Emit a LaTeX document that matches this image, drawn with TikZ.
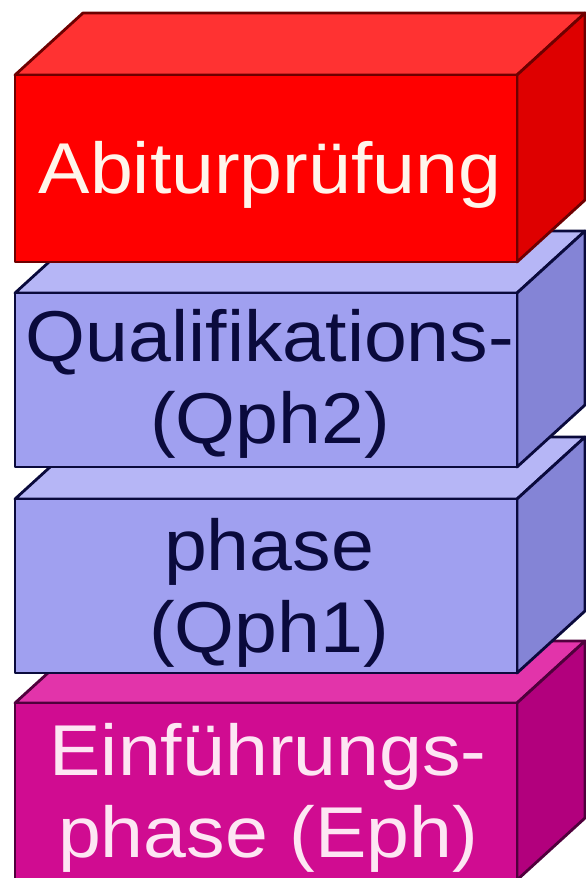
\documentclass[tikz,border=0pt]{standalone}
\usepackage{fontspec}
\setmainfont[FakeStretch=1.07]{Liberation Sans}
\definecolor{abifront}{RGB}{255,0,0}
\definecolor{abitop}{RGB}{255,50,50}
\definecolor{abiside}{RGB}{222,0,0}
\definecolor{abiline}{RGB}{110,0,0}
\definecolor{qphfront}{RGB}{160,160,240}
\definecolor{qphtop}{RGB}{182,182,246}
\definecolor{qphside}{RGB}{132,132,214}
\definecolor{qphline}{RGB}{10,10,60}
\definecolor{ephfront}{RGB}{208,12,145}
\definecolor{ephtop}{RGB}{226,52,170}
\definecolor{ephside}{RGB}{178,0,125}
\definecolor{ephline}{RGB}{80,0,60}
\begin{document}
\begin{tikzpicture}[x=1pt,y=-1pt]
		\tikzset{face/.style = {line width=2.8pt,line join=round}}
		\tikzset{phase/.style = {align=center,anchor=base,font=\fontsize{72}{82}\selectfont}}
		\useasboundingbox (0,0) rectangle (586,878);
		% Einfuehrungsphase
		\path[face,draw=ephline,fill=ephtop] (15,703) -- (83,641) -- (585,641) -- (517,703) -- cycle;
		\path[face,draw=ephline,fill=ephside] (517,703) -- (585,641) -- (585,818) -- (517,880) -- cycle;
		\path[face,draw=ephline,fill=ephfront] (15,703) rectangle (517,880);
		% Qph1
		\path[face,draw=qphline,fill=qphtop] (15,499) -- (83,437) -- (585,437) -- (517,499) -- cycle;
		\path[face,draw=qphline,fill=qphside] (517,499) -- (585,437) -- (585,611) -- (517,673) -- cycle;
		\path[face,draw=qphline,fill=qphfront] (15,499) rectangle (517,673);
		% Qph2
		\path[face,draw=qphline,fill=qphtop] (15,293) -- (83,231) -- (585,231) -- (517,293) -- cycle;
		\path[face,draw=qphline,fill=qphside] (517,293) -- (585,231) -- (585,405) -- (517,467) -- cycle;
		\path[face,draw=qphline,fill=qphfront] (15,293) rectangle (517,467);
		% Abitur
		\path[face,draw=abiline,fill=abitop] (15,75) -- (83,13) -- (585,13) -- (517,75) -- cycle;
		\path[face,draw=abiline,fill=abiside] (517,75) -- (585,13) -- (585,200) -- (517,262) -- cycle;
		\path[face,draw=abiline,fill=abifront] (15,75) rectangle (517,262);
		\node[phase,text=white!92!orange] (abi) at (270,193) {Abiturprüfung};
		\node[phase,text=qphline] (qph2) at (270,443) {Qualifikations-\\(Qph2)};
		\node[phase,text=qphline] (qph1) at (269,652) {phase\\(Qph1)};
		\node[phase,text=white!90!magenta] (eph) at (268,857) {Einführungs-\\phase (Eph)};
	\end{tikzpicture}
\end{document}
